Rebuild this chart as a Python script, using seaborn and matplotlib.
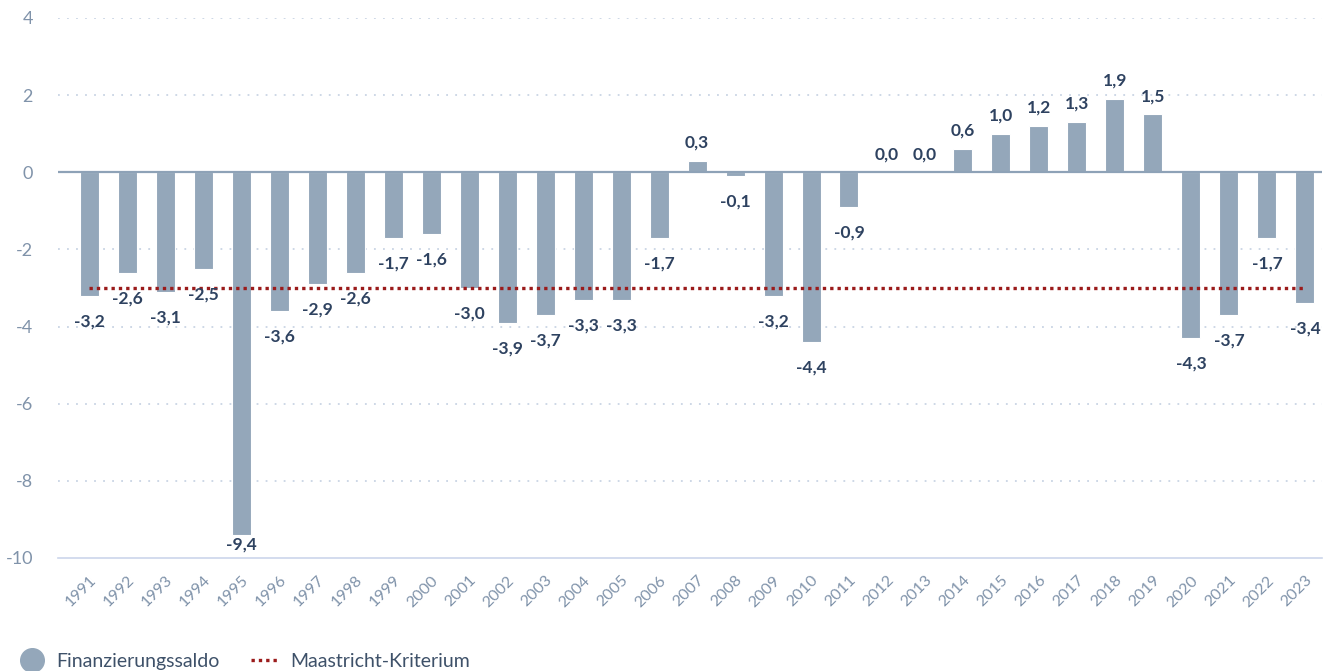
import matplotlib
matplotlib.use('Agg')
import numpy as np
import pandas as pd
import seaborn as sns
import matplotlib.pyplot as plt
from matplotlib.lines import Line2D

# data
years = [str(y) for y in range(1991, 2024)]
saldo = [-3.2, -2.6, -3.1, -2.5, -9.4, -3.6, -2.9, -2.6, -1.7, -1.6,
         -3.0, -3.9, -3.7, -3.3, -3.3, -1.7, 0.3, -0.1, -3.2, -4.4,
         -0.9, 0.0, 0.0, 0.6, 1.0, 1.2, 1.3, 1.9, 1.5, -4.3,
         -3.7, -1.7, -3.4]
maastricht = [-3.0] * len(years)
y_ticks = [-10, -8, -6, -4, -2, 0, 2, 4]

bar_color = '#94a7ba'
label_color = '#2e4260'
tick_color = '#8093aa'
grid_color = '#c9d4e4'
red = '#9b1b1b'

sns.set_style('white')
plt.rcParams['font.family'] = ['Lato', 'DejaVu Sans']

df = pd.DataFrame({'Jahr': years, 'Saldo': saldo, 'Kriterium': maastricht})
df['pos'] = np.arange(len(df))

fig = plt.figure(figsize=(13.25, 6.71), dpi=100)
ax = fig.add_axes([58 / 1325, 1 - 558 / 671, (1322 - 58) / 1325, (558 - 18) / 671])

sns.barplot(data=df, x='Jahr', y='Saldo', color=bar_color, width=0.5,
            saturation=1, edgecolor='white', linewidth=0.8, ax=ax, zorder=3)

# Maastricht-Kriterium
sns.lineplot(data=df, x='pos', y='Kriterium', color=red, linewidth=2.4,
             linestyle=(0, (1, 1.2)), ax=ax, zorder=4, legend=False)

ax.set_ylim(-10, 4)
ax.set_xlim(-0.82, 32.45)
ax.set_yticks(y_ticks)
ax.set_yticklabels([str(t) for t in y_ticks])

# grid
for t in y_ticks:
    if t == 0:
        ax.axhline(0, color='#8ea2b7', linewidth=1.6, zorder=5)
    elif t != -10:
        ax.axhline(t, color=grid_color, linewidth=1.3, linestyle=(0, (1, 4)), zorder=1)

# value labels
for i, v in enumerate(saldo):
    txt = f'{v:.1f}'.replace('.', ',')
    if v >= 0:
        y = v + 0.47
    else:
        y = max(v - 0.66, -9.66)
    ax.text(i, y, txt, ha='center', va='center', fontsize=12.5, fontweight='bold',
            color=label_color, zorder=6)

for s in ['top', 'right', 'left']:
    ax.spines[s].set_visible(False)
ax.spines['bottom'].set_color('#ccd6eb')
ax.spines['bottom'].set_linewidth(1.2)
ax.spines['bottom'].set_position(('data', -10))

ax.tick_params(axis='x', length=9, width=1.2, color='#ccd6eb', colors=tick_color,
               labelsize=11.5, pad=2, direction='out')
ax.tick_params(axis='x', which='both', color='#ccd6eb')
ax.tick_params(axis='y', length=0, labelsize=13, pad=18, colors=tick_color)
plt.setp(ax.get_xticklabels(), rotation=45, ha='right', rotation_mode='anchor')
ax.set_xlabel('')
ax.set_ylabel('')

handles = [
    Line2D([], [], marker='o', linestyle='none', markersize=17, color=bar_color),
    Line2D([], [], color=red, linewidth=2.4, linestyle=(0, (1, 1.2))),
]
leg = fig.legend(handles, ['Finanzierungssaldo', 'Maastricht-Kriterium'],
                 loc='lower left', bbox_to_anchor=(0.0, -0.024), ncol=2,
                 frameon=False, fontsize=14, handlelength=1.5,
                 columnspacing=1.6, handletextpad=0.5)
for t in leg.get_texts():
    t.set_color('#3e5169')

fig.savefig('out.png', dpi=100)
